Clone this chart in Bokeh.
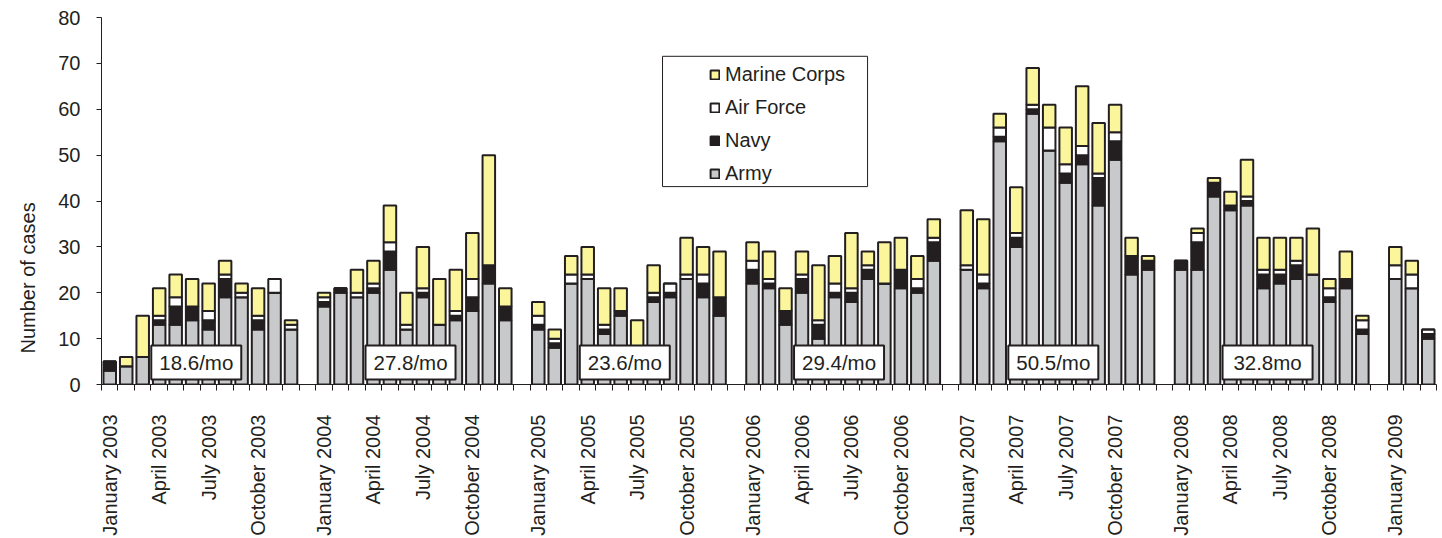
import math
from bokeh.plotting import figure
from bokeh.models import (ColumnDataSource, FixedTicker, Legend, LegendItem, Title,
                          BoxAnnotation, Range1d)
from bokeh.embed import file_html
from bokeh.resources import INLINE
from bokeh.core.properties import value

# ---------------- data ----------------
months = ["January", "February", "March", "April", "May", "June", "July",
          "August", "September", "October", "November", "December"]
years = [2003, 2004, 2005, 2006, 2007, 2008, 2009]
months_per_year = [12, 12, 12, 12, 12, 12, 3]

army = [3, 4, 6, 13, 13, 14, 12, 19, 19, 12, 20, 12,
        17, 20, 19, 20, 25, 12, 19, 13, 14, 16, 22, 14,
        12, 8, 22, 23, 11, 15, 7, 18, 19, 23, 19, 15,
        22, 21, 13, 20, 10, 19, 18, 23, 22, 21, 20, 27,
        25, 21, 53, 30, 59, 51, 44, 48, 39, 49, 24, 25,
        25, 25, 41, 38, 39, 21, 22, 23, 24, 18, 21, 11,
        23, 21, 10]
navy = [2, 0, 0, 1, 4, 3, 2, 4, 0, 2, 0, 0,
        1, 1, 0, 1, 4, 0, 1, 0, 1, 3, 4, 3,
        1, 1, 0, 0, 1, 1, 0, 1, 1, 0, 3, 4,
        3, 1, 3, 3, 3, 1, 2, 2, 0, 4, 1, 4,
        0, 1, 1, 2, 1, 0, 2, 2, 6, 4, 4, 2,
        2, 6, 3, 1, 1, 3, 2, 3, 0, 1, 2, 1,
        0, 0, 1]
air_force = [0, 0, 0, 1, 2, 0, 2, 1, 1, 1, 3, 1,
             1, 0, 1, 1, 2, 1, 1, 0, 1, 4, 0, 0,
             2, 1, 2, 1, 1, 0, 0, 1, 2, 1, 2, 0,
             2, 1, 0, 1, 1, 2, 1, 1, 0, 0, 2, 1,
             1, 2, 2, 1, 1, 5, 2, 2, 1, 2, 0, 0,
             0, 2, 0, 0, 1, 1, 1, 1, 0, 2, 0, 2,
             3, 3, 1]
marine_corps = [0, 2, 9, 6, 5, 6, 6, 3, 2, 6, 0, 1,
                1, 0, 5, 5, 8, 7, 9, 10, 9, 10, 24, 4,
                3, 2, 4, 6, 8, 5, 7, 6, 0, 8, 6, 10,
                4, 6, 5, 5, 12, 6, 12, 3, 9, 7, 5, 4,
                12, 12, 3, 10, 8, 5, 8, 13, 11, 6, 4, 1,
                0, 1, 1, 3, 8, 7, 7, 5, 10, 2, 6, 1,
                4, 3, 0]
rate_labels = ["18.6/mo", "27.8/mo", "23.6/mo", "29.4/mo", "50.5/mo", "32.8mo"]

# ---------------- positions (one empty slot between years) ----------------
year_start = []
xpos = []
s = 0
for n in months_per_year:
    year_start.append(s)
    xpos.extend(range(s, s + n))
    s += 13
n_slots = year_start[-1] + months_per_year[-1]  # 81

overrides = {}
label_ticks = []
for yi, n in enumerate(months_per_year):
    for m in (0, 3, 6, 9):
        if m < n:
            t = year_start[yi] + m
            label_ticks.append(t)
            overrides[t] = f"{months[m]} {years[yi]}"

DARK = "#231F20"
FONT = "Liberation Sans"

src = ColumnDataSource(dict(x=xpos, army=army, navy=navy,
                            air_force=air_force, marine=marine_corps))

p = figure(width=1442, height=538, output_backend="svg", toolbar_location=None,
           x_range=Range1d(-0.5, n_slots - 0.5), y_range=Range1d(0, 80),
           min_border_left=101, min_border_right=6, min_border_top=17,
           min_border_bottom=152)
p.outline_line_color = None
p.xgrid.visible = False
p.ygrid.visible = False
p.background_fill_color = "white"

renderers = p.vbar_stack(["army", "navy", "air_force", "marine"], x="x", width=0.76,
                         source=src,
                         fill_color=["#C8C9CB", DARK, "#FFFFFF", "#FBF59C"],
                         line_color=DARK, line_width=2)

# x axis
xa = p.xaxis[0]
xa.ticker = FixedTicker(ticks=label_ticks, minor_ticks=[i - 0.5 for i in range(n_slots + 1)])
xa.major_label_overrides = overrides
xa.major_label_orientation = math.pi / 2
xa.major_tick_out = 0
xa.major_tick_in = 0
xa.minor_tick_out = 6
xa.minor_tick_in = 0
xa.minor_tick_line_color = DARK
xa.axis_line_color = DARK
xa.major_label_standoff = 24
xa.major_label_text_font = FONT
xa.major_label_text_font_size = "20px"
xa.major_label_text_color = DARK

# y axis
ya = p.yaxis[0]
ya.ticker = FixedTicker(ticks=list(range(0, 81, 10)))
ya.major_tick_out = 5
ya.major_tick_in = 0
ya.minor_tick_out = 0
ya.minor_tick_in = 0
ya.axis_line_color = DARK
ya.major_tick_line_color = DARK
ya.major_label_standoff = 16
ya.major_label_text_font = FONT
ya.major_label_text_font_size = "20px"
ya.major_label_text_color = DARK

# y axis title (sits below the centre, as in the original)
p.add_layout(Title(text="Number of cases", align="left", offset=31, standoff=29,
                   vertical_align="top",
                   text_font=FONT, text_font_size="20px", text_font_style="normal",
                   text_color=DARK), "left")

# monthly-rate boxes
box_x = [st + 5.25 for st in year_start[:6]]
box_y = [4.77] * 6
p.rect(x=box_x, y=box_y, width=90, height=34, width_units="screen",
       height_units="screen", fill_color="white", line_color=DARK, line_width=2)
p.text(x=box_x, y=box_y, text=rate_labels, text_align="center", text_baseline="middle",
       text_font=value(FONT), text_font_size="20.5px", text_color=DARK)

# legend frame
p.add_layout(BoxAnnotation(left=33.54, right=45.98, top=71.54, bottom=43.14,
                           fill_color="white", fill_alpha=1.0,
                           line_color=DARK, line_width=1, line_alpha=1.0))

legend = Legend(items=[LegendItem(label="Marine Corps", renderers=[renderers[3]]),
                       LegendItem(label="Air Force", renderers=[renderers[2]]),
                       LegendItem(label="Navy", renderers=[renderers[1]]),
                       LegendItem(label="Army", renderers=[renderers[0]])],
                location=(608, 199), padding=0, margin=0, spacing=10,
                glyph_width=11, glyph_height=11, label_height=23, label_standoff=5,
                label_text_font=FONT, label_text_font_size="20px",
                label_text_color=DARK, border_line_alpha=0,
                background_fill_alpha=0)
p.add_layout(legend)

open("out.html", "w").write(file_html(p, INLINE))
